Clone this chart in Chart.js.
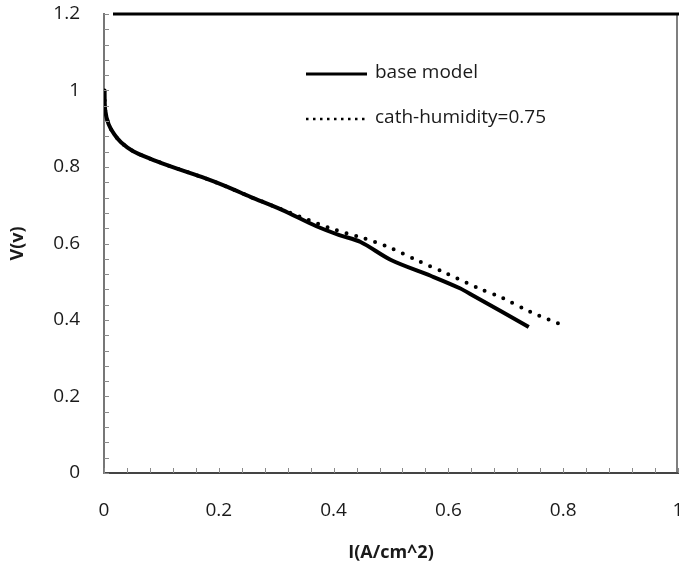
<!DOCTYPE html>
<html>
<head>
<meta charset="utf-8">
<script src="https://cdn.jsdelivr.net/npm/chart.js@4.4.0/dist/chart.umd.min.js"></script>
<style>
    html, body { margin: 0; padding: 0; background: #fff; }
    .box { width: 679px; height: 568px; }
</style>
</head>
<body>
<div class="box"><canvas id="chart" width="679" height="568"></canvas></div>
<script>
// values
const baseCurrent = [0.001, 0.002, 0.008, 0.018, 0.03, 0.05, 0.08, 0.11, 0.17, 0.215, 0.255, 0.31, 0.37, 0.41, 0.447, 0.5, 0.57, 0.62, 0.645, 0.74];
const baseVoltage = [1.0, 0.95, 0.912, 0.885, 0.864, 0.842, 0.822, 0.805, 0.774, 0.748, 0.722, 0.688, 0.645, 0.622, 0.604, 0.557, 0.515, 0.483, 0.462, 0.382];

const humCurrent = [0.001, 0.002, 0.008, 0.018, 0.03, 0.05, 0.08, 0.11, 0.17, 0.215, 0.255, 0.3, 0.325, 0.394, 0.452, 0.5, 0.545, 0.595, 0.656, 0.694, 0.743, 0.796];
const humVoltage = [1.0, 0.95, 0.912, 0.885, 0.864, 0.842, 0.822, 0.805, 0.774, 0.748, 0.722, 0.695, 0.68, 0.64, 0.614, 0.588, 0.556, 0.523, 0.481, 0.458, 0.421, 0.388];

const seriesNames = ['base model', 'cath-humidity=0.75'];
const xTitle = 'I(A/cm^2)';
const yTitle = 'V(v)';

const FONT = '"Open Sans", "DejaVu Sans", sans-serif';

function toPoints(xs, ys) {
    return xs.map((x, i) => ({ x: x, y: ys[i] }));
}

function majorLabel(v) {
    const k = v / 0.2;
    if (Math.abs(k - Math.round(k)) > 1e-6) return '';
    return String(+(Math.round(k) * 0.2).toFixed(1));
}

// inward tick marks, top/right frame and the legend
const framePlugin = {
    id: 'frame',
    afterDraw(chart) {
        const ctx = chart.ctx;
        const a = chart.chartArea;
        const xs = chart.scales.x, ys = chart.scales.y;
        ctx.save();
        ctx.strokeStyle = '#8a8a8a';
        ctx.lineWidth = 1;
        for (const t of xs.ticks) {
            const px = Math.round(xs.getPixelForValue(t.value)) + 0.5;
            ctx.beginPath();
            ctx.moveTo(px, a.bottom);
            ctx.lineTo(px, a.bottom - 5);
            ctx.stroke();
        }
        for (const t of ys.ticks) {
            const py = Math.round(ys.getPixelForValue(t.value)) + 0.5;
            ctx.beginPath();
            ctx.moveTo(a.left, py);
            ctx.lineTo(a.left + 5, py);
            ctx.stroke();
        }
        // right border
        ctx.strokeStyle = '#555';
        ctx.lineWidth = 1.5;
        ctx.beginPath();
        ctx.moveTo(a.right - 1, a.top);
        ctx.lineTo(a.right - 1, a.bottom);
        ctx.stroke();
        // top border
        ctx.strokeStyle = '#000';
        ctx.lineWidth = 3;
        ctx.beginPath();
        ctx.moveTo(a.left + 9, a.top);
        ctx.lineTo(a.right + 2, a.top);
        ctx.stroke();

        // legend
        ctx.font = '19px ' + FONT;
        ctx.fillStyle = '#1a1a1a';
        ctx.textBaseline = 'middle';
        ctx.strokeStyle = '#000';
        ctx.lineWidth = 3;
        ctx.beginPath();
        ctx.moveTo(306, 74);
        ctx.lineTo(367, 74);
        ctx.stroke();
        ctx.fillText(seriesNames[0], 375, 73);
        ctx.lineWidth = 2.5;
        ctx.setLineDash([2.5, 4.5]);
        ctx.beginPath();
        ctx.moveTo(306, 119);
        ctx.lineTo(367, 119);
        ctx.stroke();
        ctx.setLineDash([]);
        ctx.fillText(seriesNames[1], 375, 118);
        ctx.restore();
    }
};

new Chart(document.getElementById('chart'), {
    type: 'line',
    data: {
        datasets: [
            {
                label: seriesNames[1],
                data: toPoints(humCurrent, humVoltage),
                borderColor: '#000',
                borderWidth: 4,
                borderDash: [0, 10],
                borderCapStyle: 'round',
                pointRadius: 0,
                tension: 0.3,
            },
            {
                label: seriesNames[0],
                data: toPoints(baseCurrent, baseVoltage),
                borderColor: '#000',
                borderWidth: 4,
                borderJoinStyle: 'round',
                pointRadius: 0,
                tension: 0.3,
            }
        ]
    },
    options: {
        responsive: false,
        animation: false,
        layout: {
            padding: { top: 14, right: 1, left: 0, bottom: 0 },
        },
        scales: {
            x: {
                type: 'linear',
                min: 0,
                max: 1,
                grid: { display: false, drawTicks: false },
                border: { display: true, color: '#444', width: 2 },
                ticks: {
                    stepSize: 0.04,
                    autoSkip: false,
                    maxRotation: 0,
                    padding: 26,
                    color: '#1a1a1a',
                    font: { family: FONT, size: 19 },
                    callback: majorLabel,
                },
                title: {
                    display: true,
                    text: xTitle,
                    color: '#1a1a1a',
                    font: { family: FONT, size: 18, weight: 'bold' },
                    padding: { top: 0, bottom: 4 },
                },
                afterFit(s) {
                    s.height = 95;
                    s.paddingLeft = 0;
                    s.paddingRight = 0;
                },
            },
            y: {
                min: 0,
                max: 1.2,
                grid: { display: false, drawTicks: false },
                border: { display: true, color: '#777', width: 2 },
                ticks: {
                    stepSize: 0.04,
                    autoSkip: false,
                    padding: 24,
                    color: '#1a1a1a',
                    font: { family: FONT, size: 19 },
                    callback: majorLabel,
                },
                title: {
                    display: true,
                    text: yTitle,
                    color: '#1a1a1a',
                    font: { family: FONT, size: 18, weight: 'bold' },
                    padding: { top: 7, bottom: 0 },
                },
                afterFit(s) {
                    s.width = 104;
                    s.paddingTop = 0;
                    s.paddingBottom = 0;
                },
            }
        },
        plugins: {
            legend: { display: false },
            tooltip: { enabled: false },
        }
    },
    plugins: [framePlugin]
});
</script>
</body>
</html>
